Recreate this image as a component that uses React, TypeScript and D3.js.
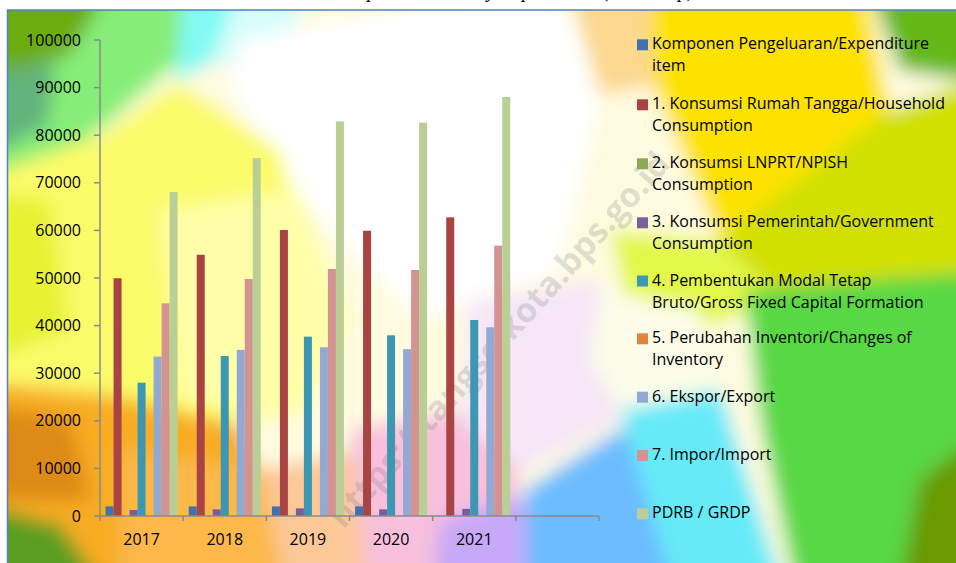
import React from 'react';
import * as d3 from 'd3';

const years = ['2017', '2018', '2019', '2020', '2021', ''];

const seriesNames = [
  'Komponen Pengeluaran/Expenditure|item',
  '1. Konsumsi Rumah Tangga/Household|Consumption',
  '2. Konsumsi LNPRT/NPISH|Consumption',
  '3. Konsumsi Pemerintah/Government|Consumption',
  '4. Pembentukan Modal Tetap|Bruto/Gross Fixed Capital Formation',
  '5. Perubahan Inventori/Changes of|Inventory',
  '6. Ekspor/Export',
  '7. Impor/Import',
  'PDRB / GRDP'
];
const seriesColors = ['#4371ad', '#a94442', '#8aa858', '#7a5d9b', '#3e97b2', '#e0843e', '#93a9d3', '#d49290', '#bacf96'];

const expenditureItem = [2017, 2018, 2019, 2020, 0];
const household = [49950, 54880, 60080, 59930, 62750];
const npish = [0, 0, 0, 0, 0];
const government = [1260, 1400, 1600, 1400, 1500];
const gfcf = [28000, 33600, 37670, 37960, 41180];
const inventory = [0, 0, 0, 0, 0];
const exportsVal = [33500, 34900, 35450, 35050, 39640];
const importsVal = [44680, 49790, 51890, 51680, 56790];
const grdp = [68070, 75210, 82910, 82630, 88030];

const yTicks = [0, 10000, 20000, 30000, 40000, 50000, 60000, 70000, 80000, 90000, 100000];

const allSeries = [expenditureItem, household, npish, government, gfcf, inventory, exportsVal, importsVal, grdp];

// background blobs (decorative picture behind the chart), drawn past the frame so the blur doesn't fade at the edges
const blobs: [string, string][] = [
  ['#fffbe0', '-40,-40 1000,-40 1000,610 -40,610'],
  ['#6cac08', '-40,-40 130,-40 70,55 -40,85'],
  ['#86ee78', '125,-40 188,-40 178,62 105,125 40,175 -40,185 -40,85 70,55'],
  ['#62b47c', '-40,75 55,62 48,125 -40,170'],
  ['#82faf4', '185,-40 250,-40 212,62 176,82'],
  ['#d8fdfc', '250,-40 340,-40 260,70 212,62'],
  ['#ffffff', '240,40 560,-20 600,100 560,270 420,320 300,200 230,90'],
  ['#fbfb6a', '-40,185 100,135 178,82 280,150 320,290 270,420 100,420 -40,380'],
  ['#e6f232', '-40,190 50,200 70,330 -40,370'],
  ['#fffea8', '160,210 300,190 350,320 300,420 180,400'],
  ['#f8ac24', '-40,380 110,395 240,425 310,610 -40,610'],
  ['#dd8a12', '-40,400 70,420 90,500 -40,500'],
  ['#fcb848', '120,450 280,470 320,610 120,610'],
  ['#5c9e22', '-40,500 60,525 120,610 -40,610'],
  ['#fcc898', '260,470 360,450 380,610 290,610'],
  ['#f8c0dc', '350,430 460,410 520,470 500,610 370,610'],
  ['#c8a8f8', '440,520 520,495 560,610 430,610'],
  ['#f6e6f8', '470,300 600,280 620,420 520,470 460,420'],
  ['#6cbcff', '525,490 620,430 700,420 720,610 525,610'],
  ['#66eaf8', '620,410 720,390 790,610 680,610'],
  ['#fcd890', '560,-40 645,-40 655,85 600,95'],
  ['#fde200', '645,-40 860,-40 890,110 720,240 655,90'],
  ['#d2e000', '720,240 890,110 1000,70 1000,300 780,300'],
  ['#e2f848', '610,230 720,240 780,300 700,330 630,320'],
  ['#fbfde8', '600,290 700,310 720,390 620,410 590,360'],
  ['#66b812', '860,-40 1000,-40 1000,85 900,70'],
  ['#58d844', '745,290 1000,270 1000,610 800,610 760,420'],
  ['#6a9a00', '920,480 1000,420 1000,610 895,610']
];

const App = () => {
  const x0 = d3.scaleBand<string>().domain(years).range([100, 599]).paddingInner(0).paddingOuter(0);
  const catW = x0.bandwidth();
  const x1 = d3.scaleBand<number>().domain(d3.range(seriesNames.length)).range([catW * 0.067, catW * 0.933]);
  const y = d3.scaleLinear().domain([0, 100000]).range([516, 40]);

  const legendY = [49.3, 109.3, 168.3, 227.3, 285.5, 343.3, 401.7, 460, 518.3];
  const font = '"Open Sans", sans-serif';

  return (
    <svg width={956} height={563} style={{ position: 'absolute', left: 0, top: 0 }}>
      <defs>
        <clipPath id="frame">
          <rect x={8} y={10} width={960} height={560} />
        </clipPath>
        <filter id="soft" x="-10%" y="-10%" width="120%" height="120%">
          <feGaussianBlur stdDeviation={9} />
        </filter>
      </defs>
      <rect width={956} height={563} fill="#fff" />
      <text x={512} y={-3} textAnchor="middle" fontFamily="'Liberation Serif', serif" fontStyle="italic" fontSize={20}>
        Komponen PDRB by Expenditure (Miliar Rp)
      </text>
      <g clipPath="url(#frame)">
        <g filter="url(#soft)">
          {blobs.map((b, i) => <polygon key={i} points={b[1]} fill={b[0]} />)}
        </g>
      </g>
      <rect x={7.5} y={10} width={960} height={560} fill="none" stroke="#4f81c8" strokeWidth={1.5} />

      {/* watermark */}
      <text transform="translate(672,165) rotate(-48)" textAnchor="end" fontFamily={font} fontWeight="bold"
        fontSize={34} fill="#5f7070" opacity={0.2}>https://tangselkota.bps.go.id</text>

      {/* bars */}
      {allSeries.map((vals, s) =>
        vals.map((v, i) => (
          <rect key={s + '-' + i} x={(x0(years[i]) as number) + (x1(s) as number)} y={y(v)}
            width={x1.bandwidth()} height={516 - y(v)} fill={seriesColors[s]} />
        ))
      )}

      {/* y axis */}
      <line x1={100} x2={100} y1={40} y2={516} stroke="#8a8a8a" strokeWidth={1.5} />
      {yTicks.map(t => (
        <g key={t}>
          <line x1={94} x2={100} y1={y(t)} y2={y(t)} stroke="#8a8a8a" strokeWidth={1.5} />
          <text x={81} y={y(t)} dy="0.35em" textAnchor="end" fontFamily={font} fontSize={16} fill="#000">{t}</text>
        </g>
      ))}

      {/* x axis */}
      <line x1={100} x2={599} y1={516} y2={516} stroke="#8a8a8a" strokeWidth={1.5} />
      {years.map((yr, i) => (
        <g key={i}>
          <line x1={(x0(yr) as number)} x2={(x0(yr) as number)} y1={516} y2={521} stroke="#8a8a8a" strokeWidth={1.5} />
          <text x={(x0(yr) as number) + catW / 2} y={545} textAnchor="middle" fontFamily={font} fontSize={16}>{yr}</text>
        </g>
      ))}
      <line x1={599} x2={599} y1={516} y2={521} stroke="#8a8a8a" strokeWidth={1.5} />

      {/* legend */}
      {seriesNames.map((nm, i) => {
        const lines = nm.split('|');
        return (
          <g key={nm}>
            <rect x={637} y={legendY[i] - 10} width={11} height={11} fill={seriesColors[i]} />
            {lines.map((ln, j) => (
              <text key={j} x={652} y={legendY[i] + j * 22} fontFamily={font} fontSize={16} fill="#000">{ln}</text>
            ))}
          </g>
        );
      })}
    </svg>
  );
};

export default App;
